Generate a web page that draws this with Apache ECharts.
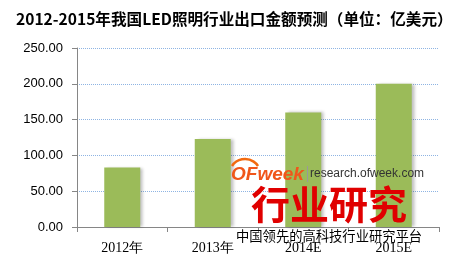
<!DOCTYPE html>
<html>
<head>
<meta charset="utf-8">
<script src="https://cdn.jsdelivr.net/npm/echarts@6/dist/echarts.min.js"></script>
<style>
html,body{margin:0;padding:0;background:#fff;}
#main{width:455px;height:260px;}
</style>
</head>
<body>
<div id="main"></div>
<script>
const titleText = '2012-2015年我国LED照明行业出口金额预测（单位：亿美元）';
const categories = ['2012年', '2013年', '2014E', '2015E'];
const values = [83, 123, 160, 200];
const yTicks = [0, 50, 100, 150, 200, 250];

const chart = echarts.init(document.getElementById('main'));
chart.setOption({
  animation: false,
  backgroundColor: '#ffffff',
  title: {
    text: titleText,
    left: 11,
    top: 6,
    textStyle: {
      fontFamily: '"Noto Sans CJK SC", sans-serif',
      fontWeight: 'bold',
      fontSize: 15.6,
      color: '#000'
    }
  },
  grid: { left: 77, right: 16, top: 48, bottom: 33 },
  xAxis: {
    type: 'category',
    data: categories,
    boundaryGap: true,
    axisLine: { lineStyle: { color: '#868686', width: 1 } },
    axisTick: { show: true, length: 5, alignWithLabel: false, lineStyle: { color: '#868686' } },
    axisLabel: {
      margin: 14,
      fontFamily: '"Liberation Serif", serif',
      fontSize: 14,
      color: '#000'
    }
  },
  yAxis: {
    type: 'value',
    min: yTicks[0],
    max: yTicks[yTicks.length - 1],
    interval: 50,
    axisLine: { show: true, lineStyle: { color: '#868686', width: 1 } },
    axisTick: { show: true, length: 5, lineStyle: { color: '#868686' } },
    axisLabel: {
      margin: 14,
      formatter: v => v.toFixed(2),
      fontFamily: '"Liberation Sans", Arial, sans-serif',
      fontSize: 13,
      color: '#000'
    },
    splitLine: { show: true, lineStyle: { color: '#8EB4E3', type: 'dotted', width: 1 } }
  },
  series: [{
    type: 'bar',
    data: values,
    barWidth: 36,
    itemStyle: {
      color: '#9BBB59',
      shadowColor: 'rgba(0,0,0,0.25)',
      shadowBlur: 3,
      shadowOffsetX: 3,
      shadowOffsetY: 0
    }
  }],
  graphic: [
    {
      type: 'arc', z: 100,
      shape: { cx: 245, cy: 174.6, r: 15.6, startAngle: 3.73, endAngle: 5.70, clockwise: true },
      style: { stroke: '#F26A10', lineWidth: 2.5, fill: null }
    },
    {
      type: 'text', z: 100, left: 231, top: 165,
      style: { text: 'OFweek', fontFamily: '"Liberation Sans", Arial, sans-serif', fontWeight: 'bold', fontStyle: 'italic', fontSize: 19, fill: '#F0561A' }
    },
    {
      type: 'rect', z: 100, shape: { x: 307, y: 166, width: 1, height: 16 }, style: { fill: '#999' }
    },
    {
      type: 'text', z: 100, left: 310, top: 168,
      style: { text: 'research.ofweek.com', fontFamily: '"Liberation Sans", Arial, sans-serif', fontSize: 12, fill: '#333' }
    },
    {
      type: 'text', z: 100, left: 251, top: 185,
      style: { text: '行业研究', fontFamily: '"Noto Sans CJK SC", sans-serif', fontWeight: 'bold', fontSize: 39, fill: '#E00000',
        shadowColor: 'rgba(0,0,0,0.35)', shadowOffsetX: 2, shadowOffsetY: 2, shadowBlur: 2 }
    },
    {
      type: 'text', z: 100, left: 236, top: 229,
      style: { text: '中国领先的高科技行业研究平台', fontFamily: '"Noto Sans CJK SC", sans-serif', fontSize: 13.3, fill: '#000' }
    }
  ]
});
</script>
</body>
</html>
